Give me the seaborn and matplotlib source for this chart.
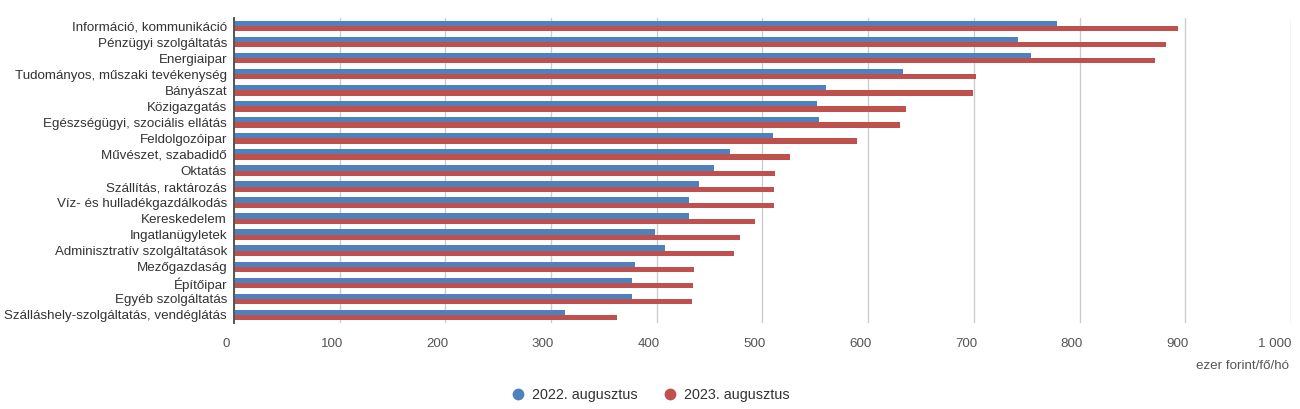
import pandas as pd
import matplotlib.pyplot as plt
import matplotlib.transforms as mtransforms
from matplotlib.lines import Line2D
import seaborn as sns

# --- adatok (ezer forint/fő/hó) ---
agazatok = [
    'Információ, kommunikáció', 'Pénzügyi szolgáltatás', 'Energiaipar',
    'Tudományos, műszaki tevékenység', 'Bányászat', 'Közigazgatás',
    'Egészségügyi, szociális ellátás', 'Feldolgozóipar', 'Művészet, szabadidő',
    'Oktatás', 'Szállítás, raktározás', 'Víz- és hulladékgazdálkodás',
    'Kereskedelem', 'Ingatlanügyletek', 'Adminisztratív szolgáltatások',
    'Mezőgazdaság', 'Építőipar', 'Egyéb szolgáltatás',
    'Szálláshely-szolgáltatás, vendéglátás',
]
ertek_2022 = [779, 742, 754, 633, 560, 552, 553, 510, 469,
              454, 440, 430, 430, 398, 408, 379, 377, 377, 313]
ertek_2023 = [893, 882, 871, 702, 699, 636, 630, 589, 526,
              512, 511, 511, 493, 479, 473, 435, 434, 433, 362]
idoszakok = ['2022. augusztus', '2023. augusztus']
szinek = ['#4f81bd', '#c0504d']
x_tickek = [0, 100, 200, 300, 400, 500, 600, 700, 800, 900, 1000]
x_cimkek = ['0', '100', '200', '300', '400', '500', '600', '700', '800', '900', '1 000']

df = pd.DataFrame({
    'agazat': agazatok * 2,
    'ertek': ertek_2022 + ertek_2023,
    'idoszak': [idoszakok[0]] * len(agazatok) + [idoszakok[1]] * len(agazatok),
})

sns.set_style('white')
plt.rcParams['font.family'] = ['Liberation Sans', 'DejaVu Sans']

fig = plt.figure(figsize=(13, 4.09), dpi=100)
ax = fig.add_axes([234 / 1300, 1 - 323 / 409, (1291 - 234) / 1300, (323 - 18) / 409])

sns.barplot(data=df, x='ertek', y='agazat', hue='idoszak', order=agazatok,
            hue_order=idoszakok, palette=szinek, width=0.66, linewidth=0,
            saturation=1, orient='h', legend=False, ax=ax, zorder=3)

ax.set_xlim(0, 1000)
ax.set_ylim(len(agazatok) - 0.5, -0.5)
ax.set_xticks(x_tickek)
ax.set_xticklabels(x_cimkek)
ax.set_xlabel('')
ax.set_ylabel('')

# rács és tengelyek
ax.grid(axis='x', color='#cccccc', linewidth=1, zorder=0)
ax.grid(axis='y', visible=False)
for s in ['top', 'right', 'bottom']:
    ax.spines[s].set_visible(False)
ax.spines['left'].set_color('#555555')
ax.spines['left'].set_linewidth(1.4)
ax.spines['left'].set_zorder(5)

ax.tick_params(axis='y', length=4, width=1, color='#999999', pad=1,
               labelsize=9.6, labelcolor='#333333')
ax.tick_params(axis='x', length=0, pad=11, labelsize=9.6, labelcolor='#555555')

# x címkék kicsit balra tolva, mint az eredetin
eltolas = mtransforms.ScaledTranslation(-8 / 100, 0, fig.dpi_scale_trans)
for lab in ax.get_xticklabels():
    lab.set_transform(lab.get_transform() + eltolas)
utolso = ax.get_xticklabels()[-1]
utolso.set_horizontalalignment('right')
utolso.set_transform(utolso.get_transform()
                     + mtransforms.ScaledTranslation(8 / 100, 0, fig.dpi_scale_trans))

fig.text(1289 / 1300, 1 - 366 / 409, 'ezer forint/fő/hó', ha='right', va='center',
         fontsize=9.6, color='#555555')

# jelmagyarázat
jelek = [Line2D([0], [0], marker='o', linestyle='', markersize=8.5,
                markerfacecolor=c, markeredgewidth=0) for c in szinek]
fig.legend(jelek, idoszakok, loc='center', bbox_to_anchor=(0.5, 1 - 395 / 409),
           ncol=2, frameon=False, fontsize=10.4, labelcolor='#333333',
           handletextpad=0.5, columnspacing=1.7, handlelength=1.0)

fig.savefig('out.png', dpi=100)
